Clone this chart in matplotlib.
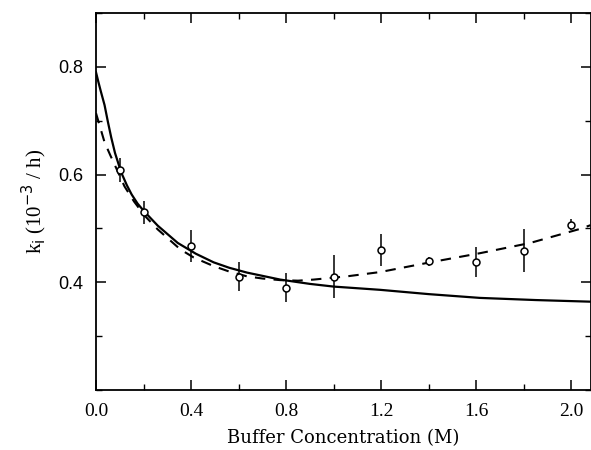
import numpy as np
import matplotlib
matplotlib.use('Agg')
import matplotlib.pyplot as plt
from matplotlib.ticker import MultipleLocator

# measured rate constants with error bars
conc = [0.1, 0.2, 0.4, 0.6, 0.8, 1.0, 1.2, 1.4, 1.6, 1.8, 2.0]
k_obs = [0.608, 0.530, 0.468, 0.410, 0.390, 0.410, 0.460, 0.439, 0.438, 0.459, 0.507]
k_err = [0.022, 0.021, 0.030, 0.027, 0.027, 0.040, 0.029, 0.008, 0.028, 0.040, 0.010]

# solid fit curve
solid_x = [0.0, 0.01, 0.02, 0.036, 0.05, 0.064, 0.08, 0.106, 0.13, 0.15, 0.175, 0.204,
           0.26, 0.344, 0.42, 0.495, 0.56, 0.635, 0.775, 0.9, 1.0, 1.195, 1.4,
           1.615, 1.85, 2.08]
solid_y = [0.790, 0.772, 0.755, 0.729, 0.698, 0.669, 0.640, 0.604, 0.580, 0.563, 0.546, 0.531,
           0.505, 0.473, 0.453, 0.437, 0.427, 0.418, 0.405, 0.397, 0.392, 0.386, 0.378,
           0.371, 0.367, 0.364]

# dashed fit curve
dash_x = [0.0, 0.02, 0.036, 0.06, 0.085, 0.12, 0.16, 0.204, 0.26, 0.355, 0.411,
          0.495, 0.56, 0.635, 0.7, 0.775, 0.85, 0.915, 1.055, 1.195, 1.405,
          1.615, 1.826, 2.035, 2.08]
dash_y = [0.714, 0.684, 0.660, 0.636, 0.612, 0.578, 0.550, 0.524, 0.498, 0.461, 0.446,
          0.430, 0.420, 0.411, 0.407, 0.404, 0.403, 0.405, 0.411, 0.419, 0.437,
          0.454, 0.473, 0.499, 0.506]

fig = plt.figure(figsize=(5.91, 4.5), dpi=100)
ax = fig.add_axes([96/591, 60/450, 494.5/591, 377/450])

ax.plot(solid_x, solid_y, color='black', lw=1.6)
ax.plot(dash_x, dash_y, color='black', lw=1.5, dashes=(5, 4))
ax.errorbar(conc, k_obs, yerr=k_err, fmt='o', ms=5, mfc='white', mec='black',
            mew=1.1, ecolor='black', elinewidth=1.1, capsize=0, zorder=5)

ax.set_xlim(0, 2.08)
ax.set_ylim(0.2, 0.9)
ax.set_xticks([0.0, 0.4, 0.8, 1.2, 1.6, 2.0])
ax.set_yticks([0.4, 0.6, 0.8])
ax.xaxis.set_minor_locator(MultipleLocator(0.2))
ax.yaxis.set_minor_locator(MultipleLocator(0.1))
ax.tick_params(which='both', direction='in', top=True, right=True)
ax.tick_params(axis='x', labelsize=14, pad=9)
ax.tick_params(axis='y', labelsize=13, pad=9)
ax.tick_params(which='major', length=7, width=1.1)
ax.tick_params(which='minor', length=4, width=1.0)
for lab in ax.get_xticklabels():
    lab.set_family('Liberation Serif')
for lab in ax.get_yticklabels():
    lab.set_family('Liberation Sans')
for s in ax.spines.values():
    s.set_linewidth(1.3)

ax.set_xlabel('Buffer Concentration (M)', fontsize=13, family='DejaVu Serif', labelpad=7)
ax.set_ylabel(r'k$_{\mathrm{i}}$ (10$^{-3}$ / h)', fontsize=15, family='Liberation Serif', labelpad=7)

fig.savefig('out.png', dpi=100)
